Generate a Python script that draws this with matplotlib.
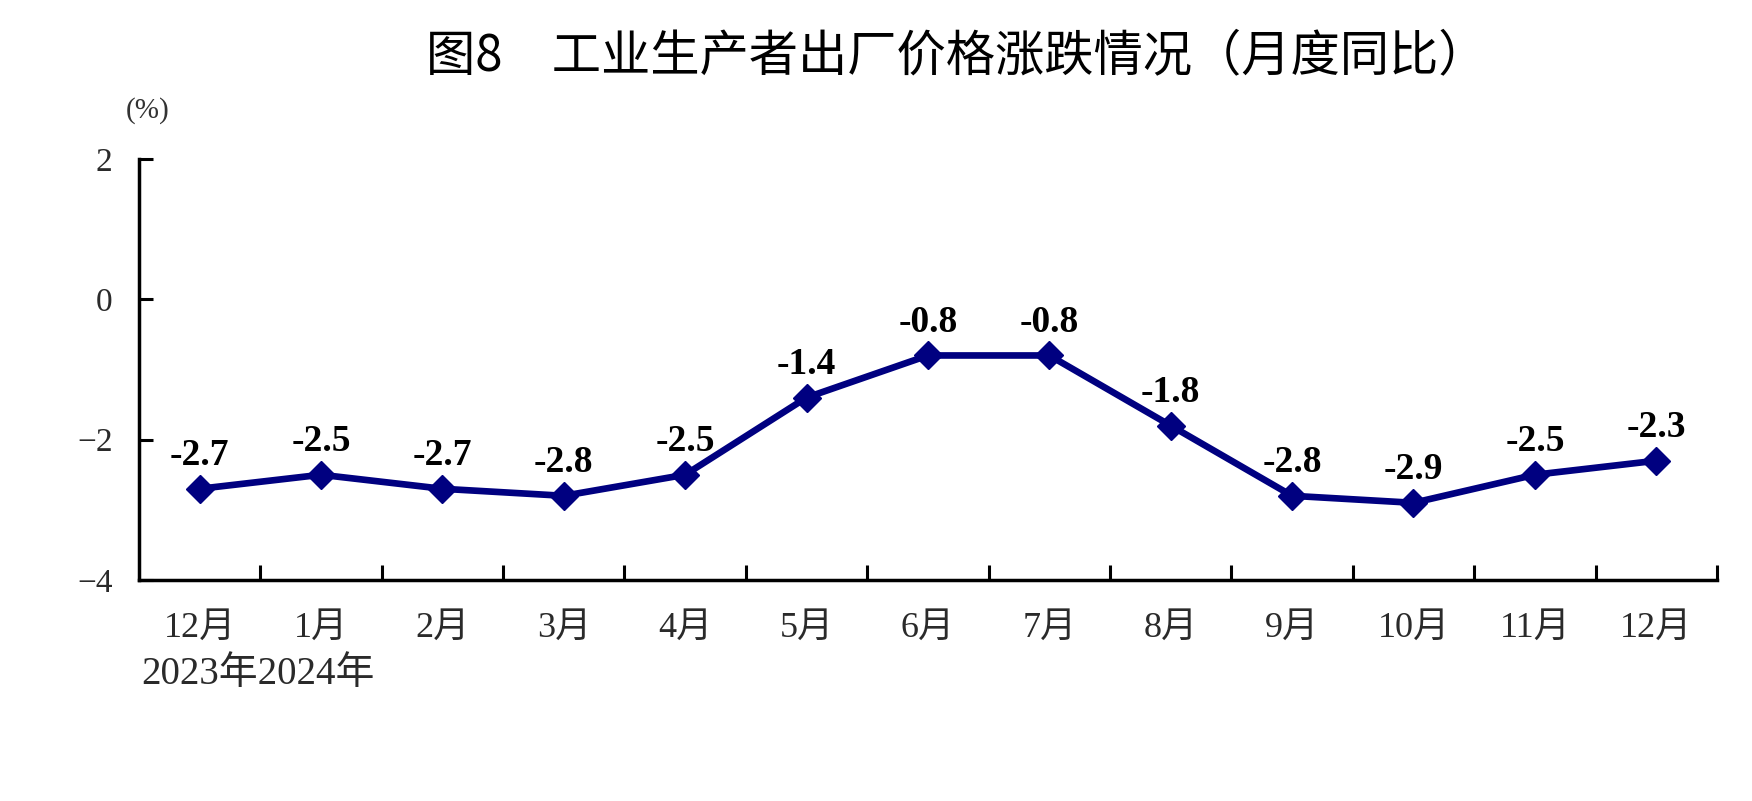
import numpy
import matplotlib
matplotlib.use("Agg")
import matplotlib.pyplot as pyplot
import matplotlib.ticker as ticker
import matplotlib.transforms as transforms


# data
months = ["12月", "1月", "2月", "3月", "4月", "5月", "6月",
          "7月", "8月", "9月", "10月", "11月", "12月"]
ppiYoY = [-2.7, -2.5, -2.7, -2.8, -2.5, -1.4, -0.8,
          -0.8, -1.8, -2.8, -2.9, -2.5, -2.3]
yearNote = "2023年2024年"
yTicks = [-4, -2, 0, 2]
titleText = "图8　工业生产者出厂价格涨跌情况（月度同比）"

serifFamily = ["Liberation Serif", "Noto Sans CJK SC"]
sansFamily = ["Noto Sans CJK SC", "DejaVu Sans"]

lineColor = "#000080"
axisColor = "black"
textColor = "#2a2a2a"

pyplot.rcParams["font.family"] = serifFamily
pyplot.rcParams["axes.unicode_minus"] = True

figure = pyplot.figure( figsize=(17.52, 8.01), dpi=100 )
axes = figure.add_axes( [0.0793, 0.2759, 0.9007, 0.5256] )

xPos = numpy.arange( len(months) )

axes.plot(
    xPos, ppiYoY,
    color=lineColor,
    linewidth=4.8,
    marker="D",
    markersize=14,
    markerfacecolor=lineColor,
    markeredgecolor=lineColor,
    zorder=3
)

for x, v in zip( xPos, ppiYoY ):
    axes.annotate(
        "%.1f" % v,
        xy=(x, v),
        xytext=(0, 17),
        textcoords="offset points",
        ha="center", va="baseline",
        fontsize=27, fontweight="bold",
        family=serifFamily, color="black"
    )

axes.set_xlim( -0.5, len(months) - 0.5 )
axes.set_ylim( -4, 2 )

# month labels sit between the boundary ticks
axes.set_xticks( xPos )
axes.set_xticklabels( months, family=serifFamily )
axes.xaxis.set_minor_locator( ticker.FixedLocator( numpy.arange(0.5, len(months), 1.0) ) )
axes.tick_params( axis="x", which="major", length=0, pad=23, labelsize=26, labelcolor=textColor )
axes.tick_params( axis="x", which="minor", direction="in", length=11, width=2.2, color=axisColor )

axes.set_yticks( yTicks )
axes.yaxis.set_major_formatter( ticker.FuncFormatter( lambda v, p: "%d" % v if v >= 0 else "\u2212%d" % abs(v) ) )
axes.tick_params( axis="y", direction="in", length=10, width=2.2, pad=19, labelsize=24, labelcolor=textColor )

for side in ["top", "right"]:
    axes.spines[side].set_visible( False )
for side in ["left", "bottom"]:
    axes.spines[side].set_linewidth( 2.5 )
    axes.spines[side].set_color( axisColor )

# year note under the first two month labels
yearShift = axes.transData + transforms.ScaledTranslation( 0, -0.76, figure.dpi_scale_trans )
axes.text(
    -0.48, -4, yearNote,
    transform=yearShift,
    ha="left", va="top",
    fontsize=28, color=textColor, family=serifFamily
)

figure.text( 148 / 1752, 1 - 111 / 801, "(%)", ha="center", va="center",
             fontsize=21, color="#333333", family=serifFamily )

figure.text( 957 / 1752, 1 - 56 / 801, titleText, ha="center", va="center",
             fontsize=35.5, color="black", family=sansFamily )

figure.savefig( "out.png", dpi=100 )
